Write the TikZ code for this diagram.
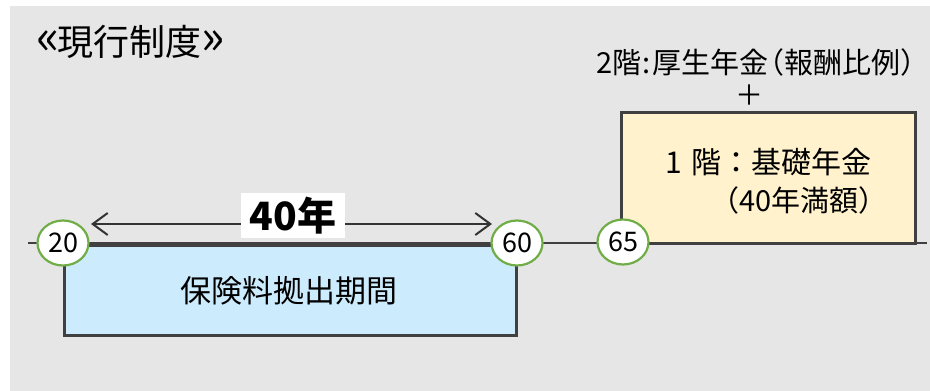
\documentclass[tikz,border=0pt]{standalone}
\usepackage{fontspec}
\setmainfont{Noto Sans CJK JP}
\usetikzlibrary{arrows.meta,shapes.geometric}
\definecolor{bg}{HTML}{E6E6E6}
\definecolor{edge}{HTML}{404040}
\definecolor{bluefill}{HTML}{CCEBFD}
\definecolor{yelfill}{HTML}{FFF2CC}
\definecolor{ringgreen}{HTML}{70AD47}
\newcommand{\lpar}{\makebox[0.55em][r]{（}}
\newcommand{\rpar}{\makebox[0.55em][l]{）}}
\tikzset{
  agebox/.style={draw=ringgreen, line width=2.2pt, fill=white, ellipse, minimum width=51pt, minimum height=45pt, inner sep=0pt, font=\fontsize{27}{27}\selectfont},
  periodbox/.style={draw=edge, line width=2.6pt, inner sep=0pt},
}
\begin{document}
\begin{tikzpicture}[x=1pt,y=-1pt]
\useasboundingbox (0,0) rectangle (930,391);
\fill[bg] (10,6) rectangle (930,391);
% timeline
\coordinate (tlL) at (28,243);
\coordinate (tlR) at (927,243);
\draw[edge, line width=1.2pt] (tlL) -- (tlR);
% boxes
\node[periodbox, fill=bluefill, minimum width=452pt, minimum height=90pt, anchor=north west] (pay) at (63,244) {};
\node[font=\fontsize{31}{31}\selectfont] (paytxt) at (289,291) {保険料拠出期間};
\node[periodbox, fill=yelfill, minimum width=294pt, minimum height=131pt, anchor=north west] (basic) at (620,111) {};
\node[font=\fontsize{30}{30}\selectfont, anchor=west] (basic1) at (662,162) {1\hspace{0.3em}階：基礎年金};
\node[font=\fontsize{29}{29}\selectfont, anchor=west] (basic2) at (720,200) {\lpar 40年満額\rpar};
\node[font=\fontsize{29}{29}\selectfont] (second) at (756,62) {2階\hspace{0.05em}:\hspace{0.05em}厚生年金\lpar 報酬比例\rpar};
\node[font=\fontsize{28}{28}\selectfont] (plus) at (749,95) {＋};
% title
\node[font=\fontsize{36}{36}\selectfont, anchor=west, inner sep=0pt] (title) at (36,42) {\makebox[0.6em][l]{\raisebox{0.02em}{\scalebox{1.35}{«}}}現行制度\makebox[0.65em][r]{\raisebox{0.02em}{\scalebox{1.35}{»}}}};
% age circles
\node[agebox] (a20) at (63,243) {20};
\node[agebox] (a60) at (517,243) {60};
\node[agebox] (a65) at (623,242) {65};
% span arrow
\coordinate (arL) at (91,224);
\coordinate (arR) at (492,224);
\draw[{Straight Barb[length=15pt,width=22pt,line width=2pt]}-{Straight Barb[length=15pt,width=22pt,line width=2pt]}, draw=black!80, line width=2pt] (arL) -- (arR);
\node[fill=white, minimum width=104pt, minimum height=45pt, inner sep=0pt, font=\bfseries\fontsize{39}{39}\selectfont] (span) at (293,215.5) {40年};
\end{tikzpicture}
\end{document}
